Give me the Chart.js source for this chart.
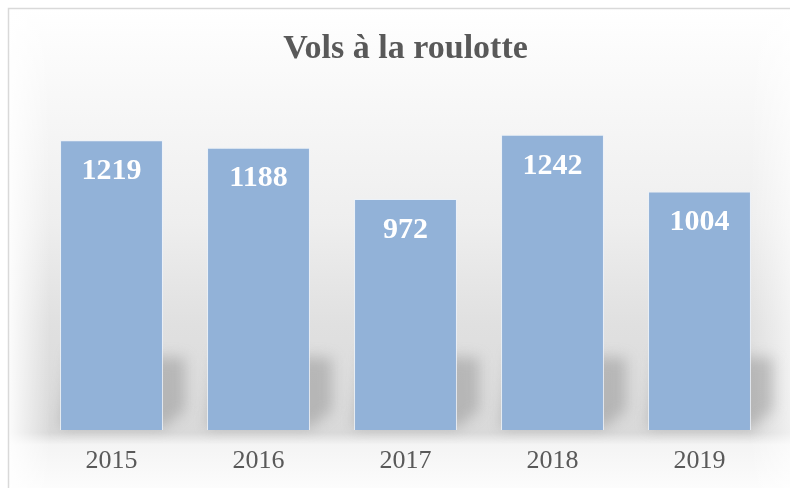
<!DOCTYPE html>
<html>
<head>
<meta charset="utf-8">
<script src="https://cdn.jsdelivr.net/npm/chart.js@4.4.1/dist/chart.umd.min.js"></script>
<style>
  body { margin: 0; background: #ffffff; }
  #wrap { width: 790px; height: 488px; }
</style>
</head>
<body>
<div id="wrap"><canvas id="vols-chart" width="790" height="488"></canvas></div>
<script>
const years = ['2015', '2016', '2017', '2018', '2019'];
const vols = [1219, 1188, 972, 1242, 1004];
const chartTitle = 'Vols à la roulotte';

const serif = "'Liberation Serif', 'DejaVu Serif', serif";

// background shading and frame, like the original office chart
const backdrop = {
    id: 'backdrop',
    beforeDraw(chart) {
        const ctx = chart.ctx;
        const w = chart.width, h = chart.height;
        ctx.save();
        ctx.fillStyle = '#ffffff';
        ctx.fillRect(0, 0, w, h);

        const g = ctx.createLinearGradient(0, 8, 0, h);
        g.addColorStop(0, '#ffffff');
        g.addColorStop(0.18, '#f8f8f8');
        g.addColorStop(0.45, '#eeeeee');
        g.addColorStop(0.66, '#e0e0e0');
        g.addColorStop(0.885, '#d9d9d9');
        g.addColorStop(0.91, '#f4f4f4');
        g.addColorStop(1, '#fcfcfc');
        ctx.fillStyle = g;
        ctx.fillRect(8, 8, w - 8, h - 8);

        // fade the sides
        const l = ctx.createLinearGradient(9, 0, 50, 0);
        l.addColorStop(0, 'rgba(255,255,255,0.9)');
        l.addColorStop(1, 'rgba(255,255,255,0)');
        ctx.fillStyle = l;
        ctx.fillRect(9, 8, 41, h - 8);
        const r = ctx.createLinearGradient(750, 0, w, 0);
        r.addColorStop(0, 'rgba(255,255,255,0)');
        r.addColorStop(1, 'rgba(255,255,255,0.6)');
        ctx.fillStyle = r;
        ctx.fillRect(750, 8, w - 750, h - 8);

        // frame
        ctx.strokeStyle = '#d9d9d9';
        ctx.lineWidth = 1.5;
        ctx.beginPath();
        ctx.moveTo(8.5, h);
        ctx.lineTo(8.5, 8.5);
        ctx.lineTo(w, 8.5);
        ctx.stroke();
        ctx.restore();
    }
};

// soft perspective shadow behind each bar
const barShadow = {
    id: 'barShadow',
    beforeDatasetsDraw(chart) {
        const ctx = chart.ctx;
        const meta = chart.getDatasetMeta(0);
        ctx.save();
        ctx.filter = 'blur(7px)';
        ctx.fillStyle = 'rgba(120,120,120,0.38)';
        meta.data.forEach(bar => {
            const half = bar.width / 2;
            const left = bar.x - half, right = bar.x + half, base = bar.base;
            ctx.beginPath();
            ctx.moveTo(left + 10, base - 78);
            ctx.lineTo(right + 22, base - 72);
            ctx.lineTo(right + 22, base - 20);
            ctx.lineTo(right, base - 2);
            ctx.lineTo(left, base - 2);
            ctx.closePath();
            ctx.fill();
        });
        ctx.restore();
    }
};

// white value labels inside the top of each bar
const valueLabels = {
    id: 'valueLabels',
    afterDatasetsDraw(chart) {
        const ctx = chart.ctx;
        const meta = chart.getDatasetMeta(0);
        ctx.save();
        ctx.fillStyle = '#ffffff';
        ctx.font = "bold 30px " + serif;
        ctx.textAlign = 'center';
        ctx.textBaseline = 'middle';
        meta.data.forEach((bar, i) => {
            ctx.fillText(vols[i], bar.x, bar.y + 31);
        });
        ctx.restore();
    }
};

const ctx = document.getElementById('vols-chart').getContext('2d');
const volsChart = new Chart(ctx, {
    type: 'bar',
    data: {
        labels: years,
        datasets: [{
            data: vols,
            backgroundColor: '#92b2d8',
            borderColor: 'rgba(235,242,250,0.9)',
            borderWidth: 1,
            categoryPercentage: 1,
            barPercentage: 0.7
        }]
    },
    options: {
        responsive: false,
        animation: false,
        devicePixelRatio: 1,
        layout: {
            padding: { left: 38, right: 17, top: 0, bottom: -4 }
        },
        plugins: {
            legend: { display: false },
            tooltip: { enabled: false },
            title: {
                display: true,
                text: chartTitle,
                color: '#595959',
                font: { family: serif, size: 34, weight: 'bold' },
                padding: { top: 29, bottom: 27.5 }
            }
        },
        scales: {
            x: {
                grid: { display: false, drawTicks: false },
                border: { display: false },
                ticks: {
                    color: '#595959',
                    font: { family: serif, size: 26, lineHeight: 1 },
                    padding: 18
                }
            },
            y: {
                display: false,
                min: 0,
                max: 1400
            }
        }
    },
    plugins: [backdrop, barShadow, valueLabels]
});
</script>
</body>
</html>
